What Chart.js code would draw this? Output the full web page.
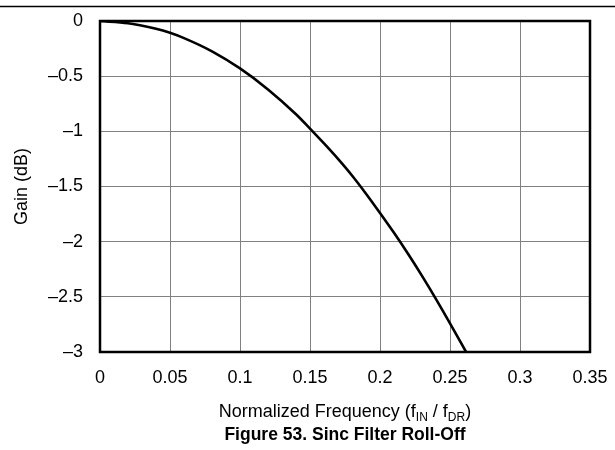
<!DOCTYPE html>
<html>
<head>
    <title>Sinc Filter Roll-Off</title>
    <script src="https://cdn.jsdelivr.net/npm/chart.js@4/dist/chart.umd.min.js"></script>
    <style>
        body { margin: 0; background: #fff; }
    </style>
</head>
<body>
<div>
    <canvas id="rolloffCanvas" width="615" height="450"></canvas>
</div>
<script>

// values
const freq = [0, 0.02, 0.04, 0.05, 0.06, 0.08, 0.10, 0.12, 0.14, 0.15, 0.16, 0.17, 0.18, 0.19, 0.20, 0.21, 0.22, 0.23, 0.24, 0.25, 0.2615];
const gainDb = [0, -0.02, -0.07, -0.107, -0.155, -0.275, -0.43, -0.62, -0.845, -0.975, -1.11, -1.25, -1.40, -1.565, -1.74, -1.92, -2.11, -2.31, -2.52, -2.74, -3.0];

const xTickValues = [0, 0.05, 0.1, 0.15, 0.2, 0.25, 0.3, 0.35];
const xTickLabels = ['0', '0.05', '0.1', '0.15', '0.2', '0.25', '0.3', '0.35'];
const yTickValues = [-3, -2.5, -2, -1.5, -1, -0.5, 0];
const yTickLabels = ['\u20133', '\u20132.5', '\u20132', '\u20131.5', '\u20131', '\u20130.5', '0'];

const FONT = 'Liberation Sans, Arial, sans-serif';

// frame box, top rule, x title with subscripts, caption
const decorations = {
    id: 'decorations',
    afterDatasetsDraw(chart) {
        const ctx = chart.ctx;
        const a = chart.chartArea;
        ctx.save();
        ctx.strokeStyle = '#000';
        ctx.lineWidth = 2.5;
        ctx.strokeRect(a.left, a.top, a.right - a.left, a.bottom - a.top);
        ctx.restore();
    },
    afterDraw(chart) {
        const ctx = chart.ctx;
        const a = chart.chartArea;
        const cx = (a.left + a.right) / 2;
        ctx.save();
        ctx.fillStyle = '#000';

        ctx.strokeStyle = '#000';
        ctx.lineWidth = 1.5;
        ctx.beginPath();
        ctx.moveTo(0, 6.5);
        ctx.lineTo(615, 6.5);
        ctx.stroke();

        // x axis title
        const parts = [
            ['Normalized Frequency (f', 18, 0],
            ['IN', 12, 4],
            [' / f', 18, 0],
            ['DR', 12, 4],
            [')', 18, 0]
        ];
        let total = 0;
        parts.forEach(p => { ctx.font = p[1] + 'px ' + FONT; total += ctx.measureText(p[0]).width; });
        let x = cx - total / 2;
        ctx.textBaseline = 'alphabetic';
        ctx.textAlign = 'left';
        parts.forEach(p => {
            ctx.font = p[1] + 'px ' + FONT;
            ctx.fillText(p[0], x, 417 + p[2]);
            x += ctx.measureText(p[0]).width;
        });

        ctx.font = 'bold 17.5px ' + FONT;
        ctx.textAlign = 'center';
        ctx.fillText('Figure 53. Sinc Filter Roll-Off', cx, 440);
        ctx.restore();
    }
};

const ctx = document.getElementById('rolloffCanvas').getContext('2d');

new Chart(ctx, {
    type: 'line',
    data: {
        datasets: [{
            data: freq.map((f, i) => ({ x: f, y: gainDb[i] })),
            borderColor: '#000',
            borderWidth: 2.6,
            pointRadius: 0,
            cubicInterpolationMode: 'monotone',
            fill: false
        }]
    },
    options: {
        responsive: false,
        animation: false,
        devicePixelRatio: 1,
        layout: { padding: { top: 21, right: 25, left: 0, bottom: 0 } },
        plugins: {
            legend: { display: false },
            tooltip: { enabled: false }
        },
        scales: {
            x: {
                type: 'linear',
                min: 0,
                max: 0.35,
                afterBuildTicks: s => { s.ticks = xTickValues.map(v => ({ value: v })); },
                afterFit: s => { s.height = 98; s.paddingLeft = 0; s.paddingRight = 0; },
                grid: { color: '#808080', lineWidth: 1, drawTicks: false },
                border: { display: false },
                ticks: {
                    padding: 15,
                    color: '#000',
                    font: { family: FONT, size: 18 },
                    maxRotation: 0,
                    callback: (v, i) => xTickLabels[i]
                }
            },
            y: {
                min: -3,
                max: 0,
                afterBuildTicks: s => { s.ticks = yTickValues.map(v => ({ value: v })); },
                afterFit: s => { s.width = 100; s.paddingTop = 0; s.paddingBottom = 0; },
                grid: { color: '#808080', lineWidth: 1, drawTicks: false },
                border: { display: false },
                title: {
                    display: true,
                    text: 'Gain (dB)',
                    color: '#000',
                    font: { family: FONT, size: 18 },
                    padding: { top: 11, bottom: 0 }
                },
                ticks: {
                    padding: 17,
                    color: '#000',
                    font: { family: FONT, size: 18 },
                    callback: (v, i) => yTickLabels[i]
                }
            }
        }
    },
    plugins: [decorations]
});

</script>
</body>
</html>
